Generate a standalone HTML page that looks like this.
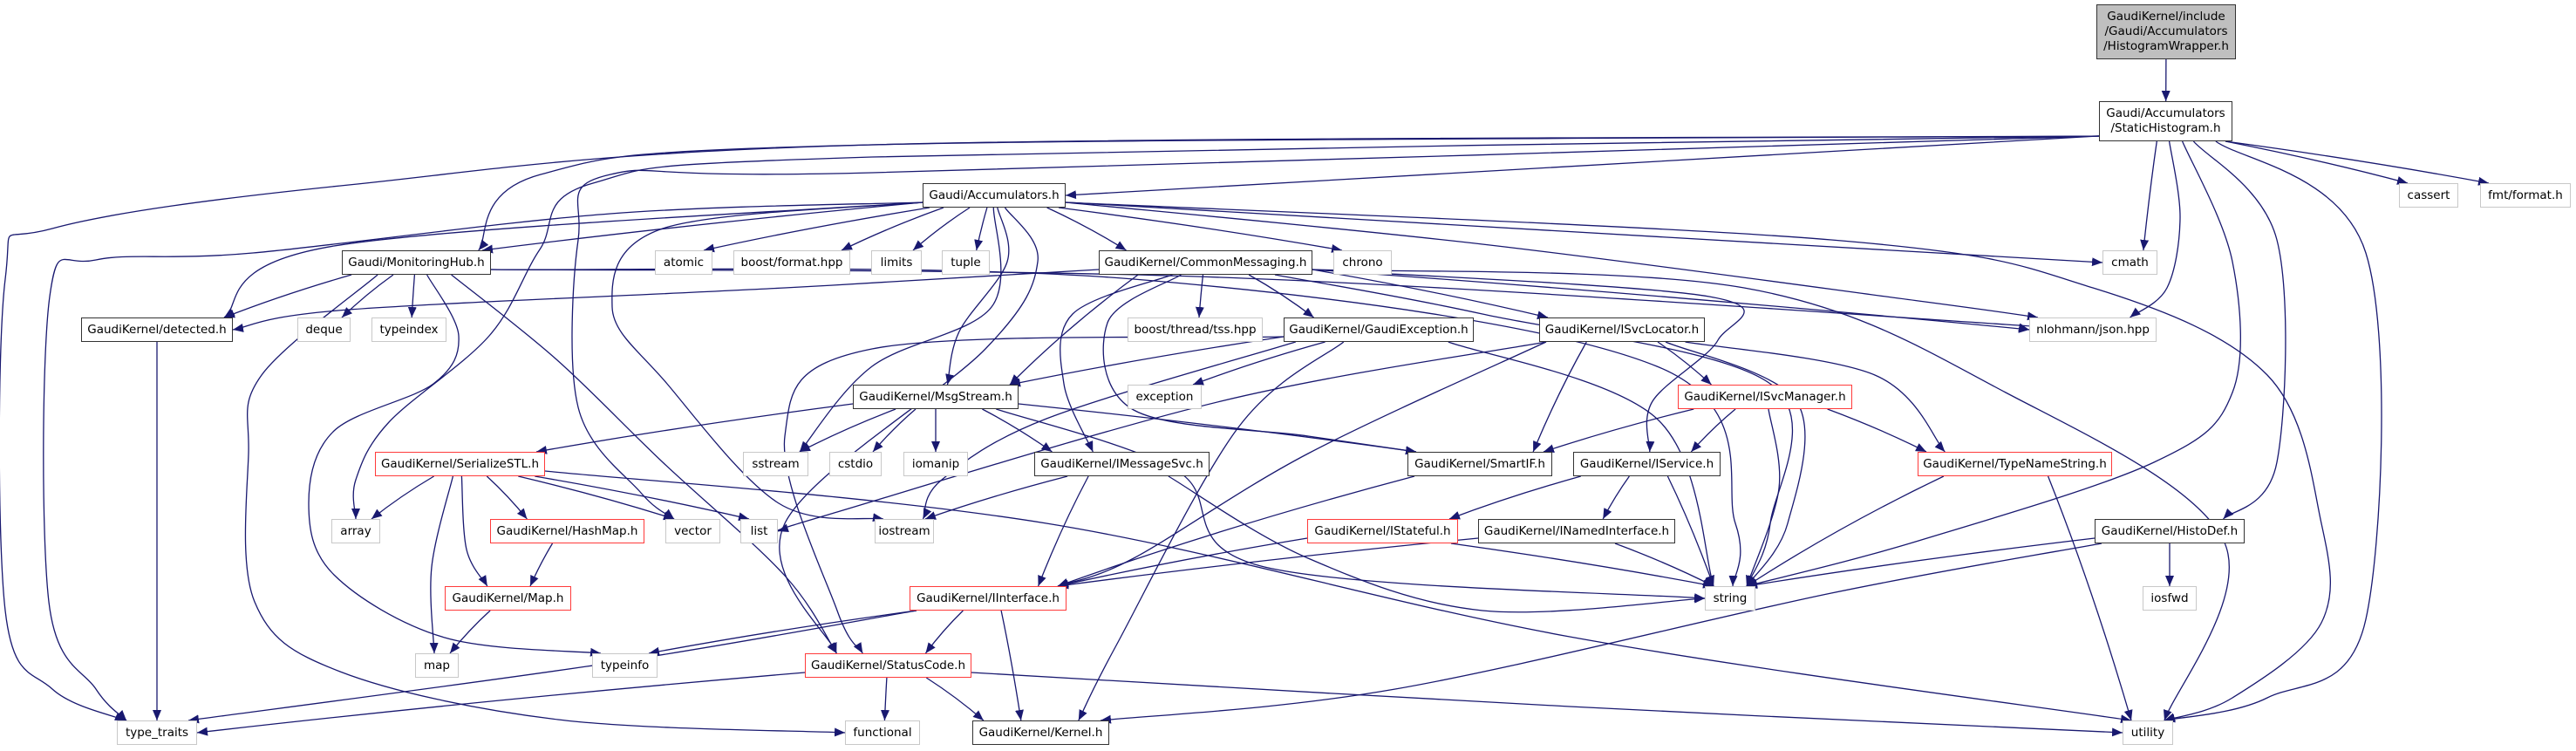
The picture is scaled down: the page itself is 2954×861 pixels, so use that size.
<!DOCTYPE html>
<html><head><meta charset="utf-8">
<style>
html,body{margin:0;padding:0;background:#fff;}
body{width:2954px;height:861px;position:relative;overflow:hidden;font-family:"DejaVu Sans","Liberation Sans",sans-serif;}
.n{position:absolute;box-sizing:border-box;background:#fff;font-size:13.5px;color:#000;text-align:center;display:flex;align-items:center;justify-content:center;line-height:17px;white-space:nowrap;}
.b{border:1.5px solid #333;}
.g{border:1.5px solid #c8c8c8;}
.r{border:1.5px solid #ff3b3b;}
svg{position:absolute;left:0;top:0;}
</style></head><body>
<svg id="s" width="2954" height="861" viewBox="0 0 2954 861">
<defs><marker id="a" markerUnits="userSpaceOnUse" markerWidth="14" markerHeight="12" refX="12" refY="5" orient="auto"><path d="M0,0 L12,5 L0,10 z" fill="#191970"/></marker></defs>
<g id="e" fill="none" stroke="#191970" stroke-width="1.3"></g>
</svg>
<div class="n b" style="left:2404px;top:5px;width:160px;height:63px;background:#bfbfbf;">GaudiKernel/include<br>/Gaudi/Accumulators<br>/HistogramWrapper.h</div>
<div class="n b" style="left:2407px;top:116px;width:153px;height:46px;">Gaudi/Accumulators<br>/StaticHistogram.h</div>
<div class="n b" style="left:1058px;top:210px;width:164px;height:28px;">Gaudi/Accumulators.h</div>
<div class="n g" style="left:2751px;top:210px;width:68px;height:28px;">cassert</div>
<div class="n g" style="left:2844px;top:210px;width:104px;height:28px;">fmt/format.h</div>
<div class="n b" style="left:392px;top:287px;width:171px;height:28px;">Gaudi/MonitoringHub.h</div>
<div class="n g" style="left:751px;top:287px;width:66px;height:28px;">atomic</div>
<div class="n g" style="left:841px;top:287px;width:134px;height:28px;">boost/format.hpp</div>
<div class="n g" style="left:999px;top:287px;width:58px;height:28px;">limits</div>
<div class="n g" style="left:1080px;top:287px;width:55px;height:28px;">tuple</div>
<div class="n b" style="left:1260px;top:287px;width:245px;height:28px;">GaudiKernel/CommonMessaging.h</div>
<div class="n g" style="left:1529px;top:287px;width:67px;height:28px;">chrono</div>
<div class="n g" style="left:2411px;top:287px;width:63px;height:28px;">cmath</div>
<div class="n b" style="left:93px;top:364px;width:174px;height:28px;">GaudiKernel/detected.h</div>
<div class="n g" style="left:341px;top:364px;width:61px;height:28px;">deque</div>
<div class="n g" style="left:426px;top:364px;width:86px;height:28px;">typeindex</div>
<div class="n g" style="left:1293px;top:364px;width:155px;height:28px;">boost/thread/tss.hpp</div>
<div class="n b" style="left:1472px;top:364px;width:218px;height:28px;">GaudiKernel/GaudiException.h</div>
<div class="n b" style="left:1765px;top:364px;width:190px;height:28px;">GaudiKernel/ISvcLocator.h</div>
<div class="n g" style="left:2327px;top:364px;width:146px;height:28px;">nlohmann/json.hpp</div>
<div class="n b" style="left:978px;top:441px;width:190px;height:28px;">GaudiKernel/MsgStream.h</div>
<div class="n g" style="left:1293px;top:441px;width:85px;height:28px;">exception</div>
<div class="n r" style="left:1924px;top:441px;width:200px;height:28px;">GaudiKernel/ISvcManager.h</div>
<div class="n g" style="left:852px;top:518px;width:75px;height:28px;">sstream</div>
<div class="n g" style="left:951px;top:518px;width:60px;height:28px;">cstdio</div>
<div class="n g" style="left:1036px;top:518px;width:74px;height:28px;">iomanip</div>
<div class="n r" style="left:430px;top:518px;width:195px;height:28px;">GaudiKernel/SerializeSTL.h</div>
<div class="n b" style="left:1186px;top:518px;width:201px;height:28px;">GaudiKernel/IMessageSvc.h</div>
<div class="n b" style="left:1614px;top:518px;width:166px;height:28px;">GaudiKernel/SmartIF.h</div>
<div class="n b" style="left:1804px;top:518px;width:169px;height:28px;">GaudiKernel/IService.h</div>
<div class="n r" style="left:2199px;top:518px;width:223px;height:28px;">GaudiKernel/TypeNameString.h</div>
<div class="n g" style="left:380px;top:595px;width:56px;height:28px;">array</div>
<div class="n r" style="left:562px;top:595px;width:177px;height:28px;">GaudiKernel/HashMap.h</div>
<div class="n g" style="left:763px;top:595px;width:63px;height:28px;">vector</div>
<div class="n g" style="left:849px;top:595px;width:43px;height:28px;">list</div>
<div class="n g" style="left:1003px;top:595px;width:68px;height:28px;">iostream</div>
<div class="n r" style="left:1499px;top:595px;width:173px;height:28px;">GaudiKernel/IStateful.h</div>
<div class="n b" style="left:1695px;top:595px;width:226px;height:28px;">GaudiKernel/INamedInterface.h</div>
<div class="n b" style="left:2402px;top:595px;width:172px;height:28px;">GaudiKernel/HistoDef.h</div>
<div class="n r" style="left:510px;top:672px;width:145px;height:28px;">GaudiKernel/Map.h</div>
<div class="n r" style="left:1043px;top:672px;width:180px;height:28px;">GaudiKernel/IInterface.h</div>
<div class="n g" style="left:1955px;top:672px;width:58px;height:28px;">string</div>
<div class="n g" style="left:2457px;top:672px;width:62px;height:28px;">iosfwd</div>
<div class="n g" style="left:476px;top:749px;width:50px;height:28px;">map</div>
<div class="n g" style="left:679px;top:749px;width:75px;height:28px;">typeinfo</div>
<div class="n r" style="left:923px;top:749px;width:191px;height:28px;">GaudiKernel/StatusCode.h</div>
<div class="n g" style="left:134px;top:826px;width:92px;height:28px;">type_traits</div>
<div class="n g" style="left:969px;top:826px;width:86px;height:28px;">functional</div>
<div class="n b" style="left:1115px;top:826px;width:157px;height:28px;">GaudiKernel/Kernel.h</div>
<div class="n g" style="left:2434px;top:826px;width:58px;height:28px;">utility</div>
<script>
var R=function(k){return 210+77*k;};
var N={
top:[2404,2564,5,68],stat:[2407,2560,116,162],
acc:[1058,1222,R(0)],cassert:[2751,2819,R(0)],fmt:[2844,2948,R(0)],
mon:[392,563,R(1)],atomic:[751,817,R(1)],bfmt:[841,975,R(1)],limits:[999,1057,R(1)],tuple:[1080,1135,R(1)],cm:[1260,1505,R(1)],chrono:[1529,1596,R(1)],cmath:[2411,2474,R(1)],
det:[93,267,R(2)],deque:[341,402,R(2)],tindex:[426,512,R(2)],tss:[1293,1448,R(2)],gexc:[1472,1690,R(2)],isl:[1765,1955,R(2)],json:[2327,2473,R(2)],
msg:[978,1168,R(3)],exc:[1293,1378,R(3)],ism:[1924,2124,R(3)],
sstream:[852,927,R(4)],cstdio:[951,1011,R(4)],iomanip:[1036,1110,R(4)],ser:[430,625,R(4)],imsg:[1186,1387,R(4)],smart:[1614,1780,R(4)],isvc:[1804,1973,R(4)],tns:[2199,2422,R(4)],
array:[380,436,R(5)],hmap:[562,739,R(5)],vector:[763,826,R(5)],list:[849,892,R(5)],iostream:[1003,1071,R(5)],istate:[1499,1672,R(5)],inamed:[1695,1921,R(5)],histo:[2402,2574,R(5)],
mapH:[510,655,R(6)],iint:[1043,1223,R(6)],string:[1955,2013,R(6)],iosfwd:[2457,2519,R(6)],
map:[476,526,R(7)],tinfo:[679,754,R(7)],sc:[923,1114,R(7)],
ttraits:[134,226,R(8)],func:[969,1055,R(8)],kernel:[1115,1272,R(8)],utility:[2434,2492,R(8)]};
for(var k in N){if(N[k].length==3)N[k].push(N[k][2]+28);}
function cl(v,a,b){return Math.max(a,Math.min(b,v));}
function startPt(n,nx,ny){var b=N[n],cx=(b[0]+b[1])/2;var dx=nx-cx,dy=ny-b[3];
 if(dy<15||Math.abs(dx)>9*Math.abs(dy)){return [dx<0?b[0]:b[1],cl(ny,b[2]+6,b[3]-6)];}
 return [cl(cx+dx*0.25,b[0]+8,b[1]-8),b[3]];}
function endPt(n,px,py){var b=N[n],cx=(b[0]+b[1])/2;var dx=px-cx,dy=b[2]-py;
 if(dy<15||Math.abs(dx)>12*dy){return [dx<0?b[0]:b[1],(b[2]+b[3])/2];}
 return [cl(cx+dx*0.5,b[0]+10,b[1]-10),b[2]];}
function path(P){var d="M"+P[0][0].toFixed(1)+","+P[0][1].toFixed(1);
 if(P.length==2){var a=P[0],b=P[1],dx=b[0]-a[0],dy=b[1]-a[1];
  var c1=[a[0]+dx*0.35,a[1]+dy*0.3],c2=[b[0]-dx*0.3,b[1]-dy*0.35];
  d+=" C"+c1[0].toFixed(1)+","+c1[1].toFixed(1)+" "+c2[0].toFixed(1)+","+c2[1].toFixed(1)+" "+b[0]+","+b[1];return d;}
 for(var i=0;i<P.length-1;i++){var p0=P[i-1]||P[i],p1=P[i],p2=P[i+1],p3=P[i+2]||P[i+1];
  var c1=[p1[0]+(p2[0]-p0[0])/6,p1[1]+(p2[1]-p0[1])/6],c2=[p2[0]-(p3[0]-p1[0])/6,p2[1]-(p3[1]-p1[1])/6];
  d+=" C"+c1[0].toFixed(1)+","+c1[1].toFixed(1)+" "+c2[0].toFixed(1)+","+c2[1].toFixed(1)+" "+p2[0].toFixed(1)+","+p2[1].toFixed(1);}
 return d;}
var E=[
['top','stat'],
['stat','acc'],['stat','mon',[[1000,166],[620,200]]],['stat','ttraits',[[1000,166],[400,212],[60,262],[6,320],[6,700],[60,790]]],
['stat','array',[[1000,180],[680,210],[619,286],[561,385],[446,484],[408,550]]],['stat','vector',[[1000,198],[700,200],[663,275],[663,467],[735,565]]],
['stat','cmath'],['stat','json',[[2500,250],[2485,330]]],['stat','string',[[2560,300],[2560,450],[2470,530],[2200,620]]],['stat','histo',[[2611,275],[2611,530]]],
['stat','utility',[[2713,290],[2713,710],[2600,800]]],['stat','cassert'],['stat','fmt'],
['acc','mon'],['acc','det',[[383,282]]],['acc','ttraits',[[700,245],[290,290],[110,298],[57,340],[56,690],[110,790]]],
['acc','atomic'],['acc','bfmt'],['acc','limits'],['acc','tuple'],['acc','cm'],['acc','chrono'],['acc','cmath'],['acc','json',[[1700,280],[2200,345]]],
['acc','utility',[[2100,275],[2400,330],[2600,430],[2662,600],[2662,714],[2560,800]]],['acc','msg',[[1155,300],[1100,380]]],
['acc','sstream',[[1137,352],[1000,420]]],['acc','iostream',[[760,262],[702,352],[765,440],[893,577]]],['acc','sc',[[1190,300],[1130,400],[900,600]]],
['mon','det'],['mon','deque'],['mon','tindex'],['mon','tinfo',[[526,385],[497,440],[383,494],[354,577],[383,659],[510,731]]],
['mon','func',[[300,430],[285,520],[292,690],[390,770],[640,825]]],['mon','sc',[[638,412],[760,530],[900,660]]],
['mon','string',[[1300,320],[1900,420],[1990,600]]],['mon','json',[[1400,318],[2300,372]]],
['cm','det',[[900,330],[400,355]]],['cm','msg'],['cm','imsg',[[1230,360],[1220,440]]],['cm','gexc'],['cm','isl'],['cm','tss'],
['cm','smart',[[1270,370],[1300,470],[1500,500]]],['cm','isvc',[[1960,340],[1970,390],[1895,460]]],['cm','json'],['cm','utility',[[2000,330],[2300,450],[2550,620]]],
['cm','string',[[1700,360],[2030,440],[2030,600]]],
['gexc','msg'],['gexc','exc'],['gexc','iostream',[[1200,480],[1080,550]]],['gexc','kernel',[[1420,490],[1280,740]]],['gexc','string',[[1900,480]]],['gexc','sc',[[1000,400],[900,500],[960,700]]],
['isl','ism'],['isl','smart'],['isl','iint',[[1500,520],[1300,640]]],['isl','list',[[1400,460],[950,590]]],['isl','tns',[[2150,430]]],['isl','string',[[2060,460],[2050,600]]],
['msg','ser'],['msg','sstream'],['msg','cstdio'],['msg','iomanip'],['msg','imsg'],['msg','smart'],['msg','string',[[1350,540],[1450,650]]],
['ser','array'],['ser','map',[[495,650]]],['ser','mapH',[[535,630]]],['ser','hmap'],['ser','vector'],['ser','list'],['ser','utility',[[1200,600],[1800,730]]],
['hmap','mapH'],['mapH','map'],
['imsg','iostream'],['imsg','iint'],['imsg','string',[[1500,640],[1700,700]]],
['ism','smart'],['ism','isvc'],['ism','tns'],['ism','string',[[2040,560]]],
['smart','iint'],['isvc','istate'],['isvc','inamed'],['isvc','string'],
['istate','iint'],['istate','string'],['inamed','iint'],['inamed','string'],
['tns','string'],['tns','utility'],
['histo','string'],['histo','iosfwd'],['histo','kernel',[[2100,680],[1600,790]]],
['iint','tinfo'],['iint','ttraits',[[700,760]]],['iint','sc'],['iint','kernel'],
['sc','ttraits'],['sc','func'],['sc','kernel'],['sc','utility',[[1800,810]]],
['det','ttraits']
];
var g=document.getElementById('e'),h='';
E.forEach(function(e){var V=e[2]||[];var t=N[e[1]];var tc=[(t[0]+t[1])/2,t[2]];
 var first=V.length?V[0]:tc;var s=startPt(e[0],first[0],first[1]);
 var last=V.length?V[V.length-1]:s;var en=endPt(e[1],last[0],last[1]);
 var P=[s].concat(V).concat([en]);
 h+='<path d="'+path(P)+'" marker-end="url(#a)"/>';});
g.innerHTML=h;
</script>
</body></html>
